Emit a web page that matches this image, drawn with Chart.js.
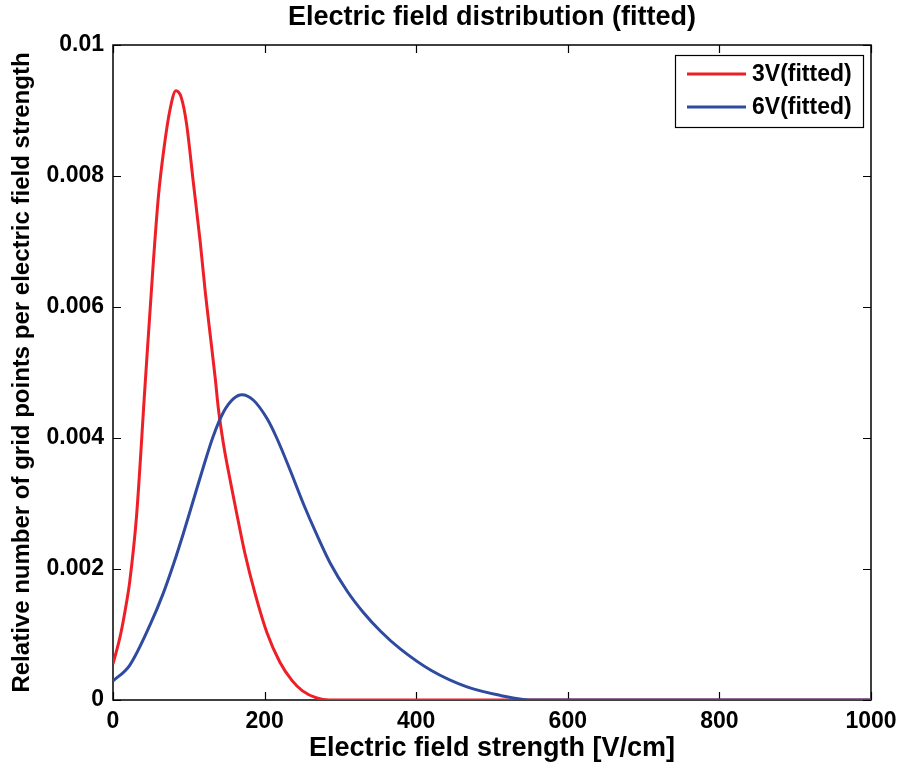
<!DOCTYPE html>
<html>
<head>
<meta charset="utf-8">
<script src="https://cdn.jsdelivr.net/npm/chart.js@4.4.1/dist/chart.umd.min.js"></script>
<style>
  html, body { margin: 0; padding: 0; background: #fff; }
  #wrap { width: 905px; height: 771px; }
</style>
</head>
<body>
<div id="wrap"><canvas id="field"></canvas></div>
<script>
// ── Data ──────────────────────────────────────────────────────────────────────

const fieldRed  = [0, 10, 18, 22, 31, 42, 53, 60, 67, 75, 83, 90, 97, 106, 115, 122, 128, 135, 139, 146, 155, 163,
                   174, 188, 203, 220, 236, 250, 269, 285, 1000];
const valuesRed = [0.00055, 0.00100, 0.00150, 0.00180, 0.00280, 0.00475, 0.00665, 0.0077, 0.0084, 0.0090, 0.0093, 0.0092,
                   0.0088, 0.0079, 0.0070, 0.0062, 0.0056, 0.0049, 0.00445, 0.00389, 0.00333, 0.00286, 0.00224, 0.00160,
                   0.00103, 0.00058, 0.00030, 0.00014, 0.00003, 0, 0];

const fieldBlue  = [0, 22, 49, 66, 80, 93, 106, 119, 132, 146, 159, 170, 185, 203, 216, 234, 251, 269, 287, 309, 330,
                    353, 379, 420, 467, 511, 550, 1000];
const valuesBlue = [0.00029, 0.00053, 0.00115, 0.00162, 0.00208, 0.00255, 0.00305, 0.00355, 0.00402, 0.00440, 0.00460,
                    0.00466, 0.00458, 0.00430, 0.00400, 0.00350, 0.00300, 0.00252, 0.00208, 0.00166, 0.00134, 0.00105,
                    0.00078, 0.00045, 0.00020, 0.00007, 0, 0];

const seriesLabels = ['3V(fitted)', '6V(fitted)'];
const xTicks = [0, 200, 400, 600, 800, 1000];
const yTicks = [0, 0.002, 0.004, 0.006, 0.008, 0.01];

const RED  = '#ee1f26';
const BLUE = '#2f4b9f';
const FONT = "'Liberation Sans', Arial, sans-serif";

const pts = (xs, ys) => xs.map((x, i) => ({ x, y: ys[i] }));

// ── Box frame + inward tick marks, title and legend ───────────────────────────

const framePlugin = {
  id: 'frame',
  beforeDatasetsDraw(chart) {
    const { ctx, chartArea: a, scales: { x, y } } = chart;
    const tl = 8;
    ctx.save();
    ctx.strokeStyle = '#000';
    ctx.lineWidth = 1.5;
    ctx.strokeRect(a.left, a.top, a.right - a.left, a.bottom - a.top);
    ctx.lineWidth = 1.2;
    ctx.beginPath();
    xTicks.forEach(v => {
      const px = Math.round(x.getPixelForValue(v)) + 0.5;
      ctx.moveTo(px, a.bottom); ctx.lineTo(px, a.bottom - tl);
      ctx.moveTo(px, a.top);    ctx.lineTo(px, a.top + tl);
    });
    yTicks.forEach(v => {
      const py = Math.round(y.getPixelForValue(v)) + 0.5;
      ctx.moveTo(a.left, py);  ctx.lineTo(a.left + tl, py);
      ctx.moveTo(a.right, py); ctx.lineTo(a.right - tl, py);
    });
    ctx.stroke();
    ctx.restore();
  },
  afterDraw(chart) {
    const { ctx, chartArea: a } = chart;
    ctx.save();
    // title
    ctx.fillStyle = '#000';
    ctx.font = `bold 27px ${FONT}`;
    ctx.textAlign = 'center';
    ctx.textBaseline = 'middle';
    ctx.fillText('Electric field distribution (fitted)', (a.left + a.right) / 2, 18);

    // legend box in the upper right corner
    const bx = 675, by = 55, bw = 188, bh = 72;
    ctx.fillStyle = '#fff';
    ctx.fillRect(bx, by, bw, bh);
    ctx.strokeStyle = '#000';
    ctx.lineWidth = 1.2;
    ctx.strokeRect(bx + 0.5, by + 0.5, bw, bh);
    ctx.font = `bold 23px ${FONT}`;
    ctx.textAlign = 'left';
    [RED, BLUE].forEach((c, i) => {
      const ly = by + 19 + i * 33;
      ctx.strokeStyle = c;
      ctx.lineWidth = 3;
      ctx.beginPath();
      ctx.moveTo(bx + 12, ly); ctx.lineTo(bx + 71, ly);
      ctx.stroke();
      ctx.fillStyle = '#000';
      ctx.fillText(seriesLabels[i], bx + 77, ly + 1);
    });
    ctx.restore();
  }
};

// ── Chart ─────────────────────────────────────────────────────────────────────

new Chart(document.getElementById('field'), {
  type: 'line',
  data: {
    datasets: [
      {
        label: seriesLabels[0],
        data: pts(fieldRed, valuesRed),
        borderColor: RED,
        borderWidth: 3,
        pointRadius: 0,
        cubicInterpolationMode: 'monotone',
        order: 1,
      },
      {
        label: seriesLabels[1],
        data: pts(fieldBlue, valuesBlue),
        borderColor: BLUE,
        borderWidth: 3,
        pointRadius: 0,
        cubicInterpolationMode: 'monotone',
        order: 0,
      },
    ],
  },
  options: {
    responsive: true,
    maintainAspectRatio: false,
    animation: false,
    layout: { padding: { top: 45, right: 34, left: 0, bottom: 0 } },
    scales: {
      x: {
        type: 'linear',
        min: 0,
        max: 1000,
        afterFit: s => { s.height = 71; },
        afterBuildTicks: s => { s.ticks = xTicks.map(v => ({ value: v })); },
        grid: { display: false, drawTicks: false },
        border: { display: false },
        ticks: {
          color: '#000',
          padding: 8,
          maxRotation: 0,
          font: { family: FONT, size: 23, weight: 'bold' },
          callback: v => String(v),
        },
        title: {
          display: true,
          text: 'Electric field strength [V/cm]',
          color: '#000',
          padding: { top: 0, bottom: 6 },
          font: { family: FONT, size: 27, weight: 'bold' },
        },
      },
      y: {
        min: 0,
        max: 0.01,
        afterFit: s => { s.width = 113; },
        afterBuildTicks: s => { s.ticks = yTicks.map(v => ({ value: v })); },
        grid: { display: false, drawTicks: false },
        border: { display: false },
        ticks: {
          color: '#000',
          padding: 9,
          font: { family: FONT, size: 23, weight: 'bold' },
          callback: v => String(Number(v.toFixed(3))),
        },
        title: {
          display: true,
          text: 'Relative number of grid points per electric field strength',
          color: '#000',
          padding: { top: 8, bottom: 0 },
          font: { family: FONT, size: 24, weight: 'bold' },
        },
      },
    },
    plugins: {
      legend: { display: false },
      tooltip: { enabled: false },
    },
  },
  plugins: [framePlugin],
});
</script>
</body>
</html>
